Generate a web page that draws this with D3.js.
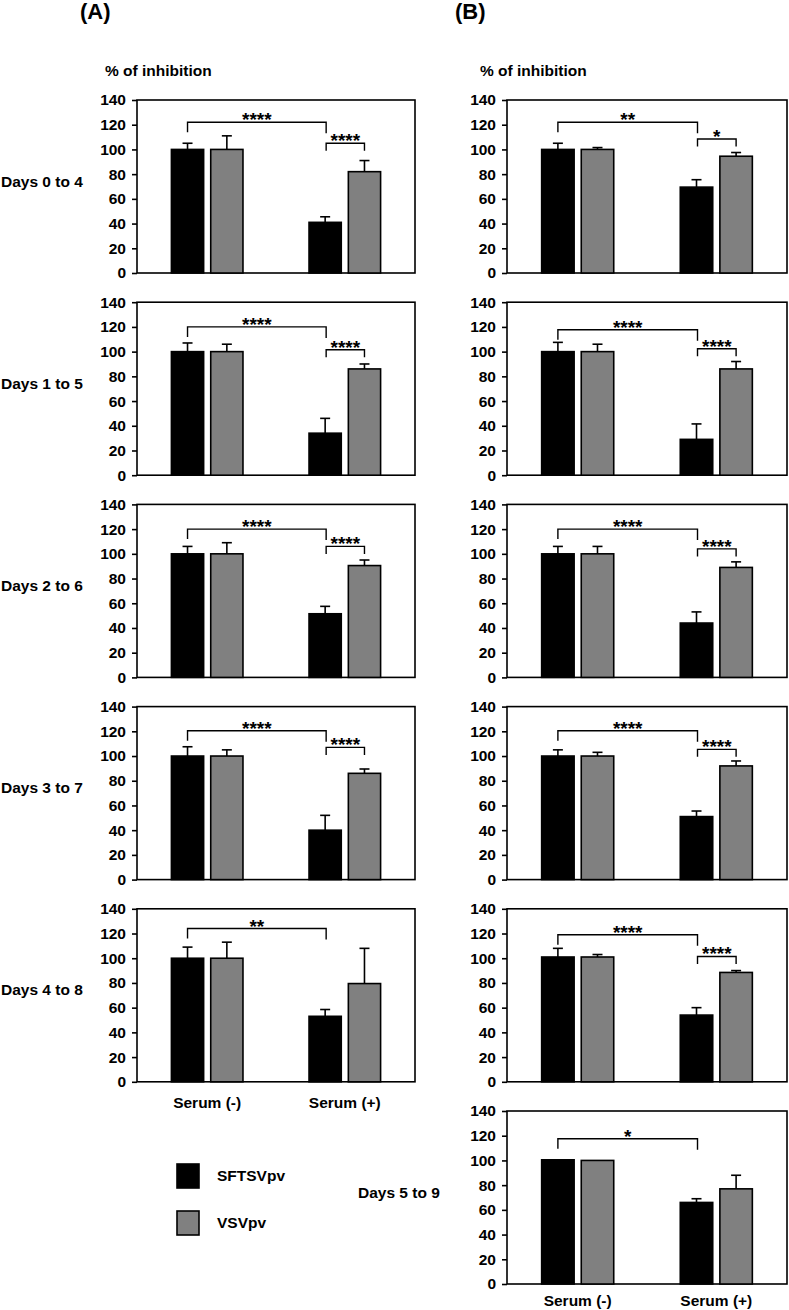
<!DOCTYPE html>
<html><head><meta charset="utf-8">
<script src="https://cdn.jsdelivr.net/npm/d3@7"></script>
<style>
body{margin:0;background:#fff}
text{font-family:"Liberation Sans",Arial,Helvetica,sans-serif;font-weight:bold;fill:#000}
</style>
</head><body>
<svg id="c" width="789" height="1310"></svg>
<script>
// ---------- data ----------
const categories = ["Serum (-)", "Serum (+)"];
const seriesNames = ["SFTSVpv", "VSVpv"];
const yTicks = [0, 20, 40, 60, 80, 100, 120, 140];
const panelTitles = ["(A)", "(B)"];
const yAxisTitle = "% of inhibition";

const rowLabelsA = ["Days 0 to 4", "Days 1 to 5", "Days 2 to 6", "Days 3 to 7", "Days 4 to 8"];
const rowLabelsB = ["", "", "", "", "", "Days 5 to 9"];

// [Serum (-), Serum (+)]
const sftsvA    = [[100, 41], [100, 34], [100, 51.5], [100, 40], [100, 53]];
const sftsvErrA = [[5, 4.5], [7, 12], [6, 6], [7.5, 12], [9, 5.5]];
const vsvA      = [[100, 82], [100, 86], [100, 90.5], [100, 86], [100, 79.5]];
const vsvErrA   = [[11, 9], [6, 4], [9, 4.5], [5, 3.5], [13, 28.5]];

const sftsvB    = [[100, 69.5], [100, 29], [100, 44], [100, 51], [101, 54], [100.5, 66]];
const sftsvErrB = [[5, 6], [7.5, 12.5], [6, 9], [5, 4.5], [7, 6], [0, 3]];
const vsvB      = [[100, 94.5], [100, 86], [100, 89], [100, 92], [101, 88.5], [100, 77]];
const vsvErrB   = [[1.5, 3], [6, 6], [6, 4.5], [3, 4], [2, 1.5], [0, 11]];

// significance: SFTSVpv Serum(-) vs Serum(+)  [label, bracket level]
const sigBetweenA = [["****", 122], ["****", 120], ["****", 120], ["****", 120.4], ["**", 124]];
const sigBetweenB = [["**", 122], ["****", 117.7], ["****", 120], ["****", 120.4], ["****", 119], ["*", 117.5]];
// significance: Serum(+) SFTSVpv vs VSVpv
const sigWithinA = [["****", 105], ["****", 101.5], ["****", 106], ["****", 107], null];
const sigWithinB = [["*", 108.5], ["****", 102.3], ["****", 104], ["****", 105.4], ["****", 101.4], null];

// ---------- drawing ----------
const svg = d3.select("#c");
const FS = 15.5;
const rowTop0 = 100, rowStep = 202.2, plotH = 173;
const cols = [
  {left: 137, right: 415, labels: rowLabelsA, s: sftsvA, se: sftsvErrA, v: vsvA, ve: vsvErrA, sb: sigBetweenA, sw: sigWithinA, titleX: 80, ytX: 105, labelX: 1, catOff: 26},
  {left: 507, right: 787, labels: rowLabelsB, s: sftsvB, se: sftsvErrB, v: vsvB, ve: vsvErrB, sb: sigBetweenB, sw: sigWithinB, titleX: 455, ytX: 480, labelX: 358, catOff: 21.5}
];
const fills = {"SFTSVpv": "#000000", "VSVpv": "#808080"};

cols.forEach((col, ci) => {
  svg.append("text").attr("x", col.titleX).attr("y", 19).attr("font-size", 22).text(panelTitles[ci]);
  svg.append("text").attr("x", col.ytX).attr("y", 76).attr("font-size", FS).text(yAxisTitle);

  const nRows = col.s.length;
  for (let r = 0; r < nRows; r++) {
    const top = rowTop0 + r * rowStep;
    const bottom = top + plotH;
    const y = d3.scaleLinear().domain([0, 140]).range([bottom, top]);
    const x0 = d3.scaleBand().domain(categories).range([col.left, col.right]).paddingInner(0.48).paddingOuter(0.25);
    const x1 = d3.scaleBand().domain(seriesNames).range([0, x0.bandwidth()]).paddingInner(0.18);
    const g = svg.append("g");

    // frame
    g.append("rect").attr("x", col.left).attr("y", top).attr("width", col.right - col.left).attr("height", plotH)
      .attr("fill", "none").attr("stroke", "#000").attr("stroke-width", 1.6);

    // y axis
    const ax = g.append("g").attr("transform", `translate(${col.left},0)`)
      .call(d3.axisLeft(y).tickValues(yTicks).tickSize(5).tickPadding(6));
    ax.select(".domain").remove();
    ax.selectAll("line").attr("stroke", "#000").attr("stroke-width", 1.6);
    ax.selectAll("text").attr("font-size", FS).attr("font-family", null).attr("fill", "#000");

    const rows = [];
    categories.forEach((c, k) => {
      rows.push({cat: c, ser: "SFTSVpv", v: col.s[r][k], e: col.se[r][k]});
      rows.push({cat: c, ser: "VSVpv", v: col.v[r][k], e: col.ve[r][k]});
    });
    const cx = d => x0(d.cat) + x1(d.ser) + x1.bandwidth() / 2;

    // error bars (upper only)
    const eb = rows.filter(d => d.e > 0);
    g.selectAll(".ev").data(eb).join("line")
      .attr("x1", cx).attr("x2", cx).attr("y1", d => y(d.v)).attr("y2", d => y(d.v + d.e))
      .attr("stroke", "#000").attr("stroke-width", 1.6);
    g.selectAll(".ec").data(eb).join("line")
      .attr("x1", d => cx(d) - 5).attr("x2", d => cx(d) + 5).attr("y1", d => y(d.v + d.e)).attr("y2", d => y(d.v + d.e))
      .attr("stroke", "#000").attr("stroke-width", 1.6);

    // bars
    g.selectAll(".bar").data(rows).join("rect")
      .attr("x", d => x0(d.cat) + x1(d.ser)).attr("width", x1.bandwidth())
      .attr("y", d => y(d.v)).attr("height", d => y(0) - y(d.v))
      .attr("fill", d => fills[d.ser]).attr("stroke", "#000").attr("stroke-width", 1.6);

    // significance brackets
    const bracket = (xa, xb, level, label, dropL, dropR) => {
      const yl = y(level);
      g.append("path")
        .attr("d", `M${xa},${yl + dropL}V${yl}H${xb}V${yl + dropR}`)
        .attr("fill", "none").attr("stroke", "#000").attr("stroke-width", 1.4);
      g.append("text").attr("x", (xa + xb) / 2).attr("y", yl + 4).attr("text-anchor", "middle")
        .attr("font-size", 19).text(label);
    };
    const sb = col.sb[r];
    if (sb) bracket(cx({cat: categories[0], ser: "SFTSVpv"}), cx({cat: categories[1], ser: "SFTSVpv"}) + 1, sb[1], sb[0], 10, 11);
    const sw = col.sw[r];
    if (sw) bracket(cx({cat: categories[1], ser: "SFTSVpv"}) + 1, cx({cat: categories[1], ser: "VSVpv"}), sw[1], sw[0], 7.5, 7.5);

    // row label
    if (col.labels[r]) {
      svg.append("text").attr("x", col.labelX).attr("y", (top + bottom) / 2).attr("font-size", FS).text(col.labels[r]);
    }

    // category labels on the last row of each column
    if (r === nRows - 1) {
      categories.forEach(c => {
        svg.append("text").attr("x", x0(c) + x0.bandwidth() / 2).attr("y", bottom + col.catOff)
          .attr("text-anchor", "middle").attr("font-size", FS).text(c);
      });
    }
  }
});

// legend
const legendItems = seriesNames.map((s, i) => ({name: s, i}));
const lg = svg.append("g");
lg.selectAll("rect").data(legendItems).join("rect")
  .attr("x", 177).attr("y", d => 1164 + d.i * 47).attr("width", 22).attr("height", 24)
  .attr("fill", d => fills[d.name]).attr("stroke", "#000").attr("stroke-width", 1.6);
lg.selectAll("text").data(legendItems).join("text")
  .attr("x", 217).attr("y", d => 1181 + d.i * 47).attr("font-size", FS).text(d => d.name);
</script>
</body></html>
